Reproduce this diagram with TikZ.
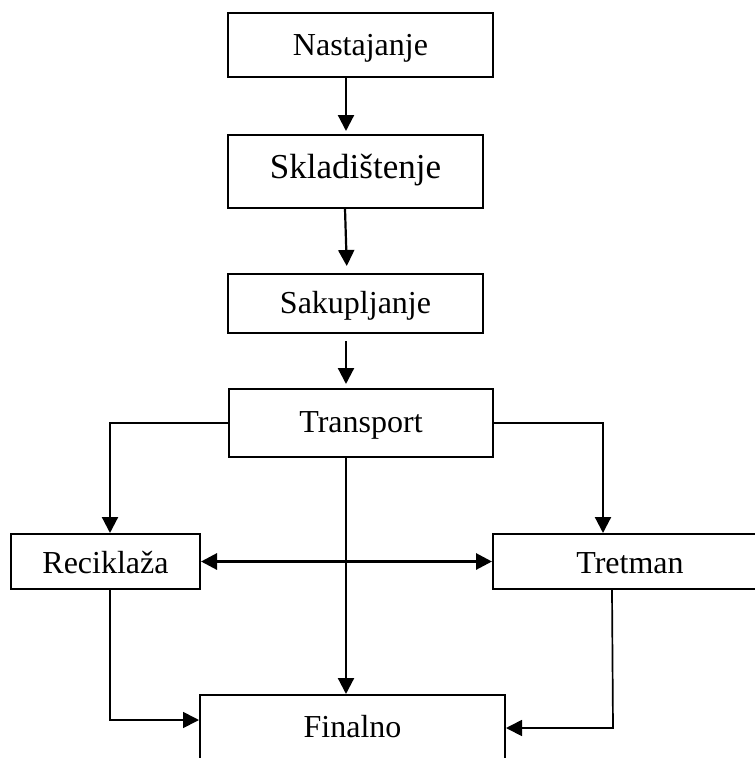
\documentclass[tikz,border=0pt]{standalone}
\usepackage{fontspec}
\setmainfont{Liberation Serif}
\usetikzlibrary{arrows.meta}
\begin{document}
\begin{tikzpicture}[x=1pt,y=-1pt,
  box/.style={draw, line width=2pt, rectangle, inner sep=0pt, text height=27pt, text depth=7pt, font=\fontsize{32}{38}\selectfont},
  arr/.style={line width=2.2pt, -{Triangle[width=16pt,length=16pt]}},
  thinarr/.style={line width=1.7pt, -{Triangle[width=16pt,length=16pt]}},
  dblarr/.style={line width=3pt, {Triangle[width=16pt,length=16pt]}-{Triangle[width=16pt,length=16pt]}}
]
\useasboundingbox (0,0) rectangle (755,758);
\clip (0,0) rectangle (755,758);
% boxes
\node[box, minimum width=265pt, minimum height=64pt] (nast) at (360.5,45) {Nastajanje};
\node[box, minimum width=255pt, minimum height=73pt, text height=21pt, text depth=8pt, font=\fontsize{35}{40}\selectfont] (skla) at (355.5,171.5) {Skladištenje};
\node[box, minimum width=255pt, minimum height=59pt] (saku) at (355.5,303.5) {Sakupljanje};
\node[box, minimum width=264pt, minimum height=68pt, text height=25pt] (trans) at (361,423) {Transport};
\node[box, minimum width=189pt, minimum height=55pt, text height=30pt] (reci) at (105.5,561.5) {Reciklaža};
\node[box, minimum width=274pt, minimum height=55pt, text height=31pt] (tret) at (630,561.5) {Tretman};
\node[box, minimum width=305pt, minimum height=68pt, text height=23pt] (fin) at (352.5,729) {Finalno};
% helper coordinates
\coordinate (cx) at (346,0);
\coordinate (cxa) at (345,0);
\coordinate (cxb) at (347,0);
\coordinate (lx) at (110,0);
\coordinate (rx) at (603,0);
\coordinate (rx2) at (612,0);
\coordinate (rx3) at (613,0);
\coordinate (ly) at (0,720);
\coordinate (ry) at (0,728);
% connectors
\draw[arr, shorten >=3pt] (nast.south -| cx) -- (skla.north -| cx);
\draw[arr, shorten >=7pt] (skla.south -| cxa) -- (saku.north -| cxb);
\draw[arr, shorten <=7pt, shorten >=4pt] (saku.south -| cx) -- (trans.north -| cx);
\draw[arr] (trans.west) -| (reci.north -| lx);
\draw[arr] (trans.east) -| (tret.north -| rx);
\draw[arr] (trans.south -| cx) -- (fin.north -| cx);
\draw[dblarr] (reci.east) -- (tret.west);
\draw[thinarr] (reci.south -| lx) |- (fin.west |- ly);
\draw[thinarr] (tret.south -| rx2) -- (rx3 |- ry) -- (fin.east |- ry);
\end{tikzpicture}
\end{document}
